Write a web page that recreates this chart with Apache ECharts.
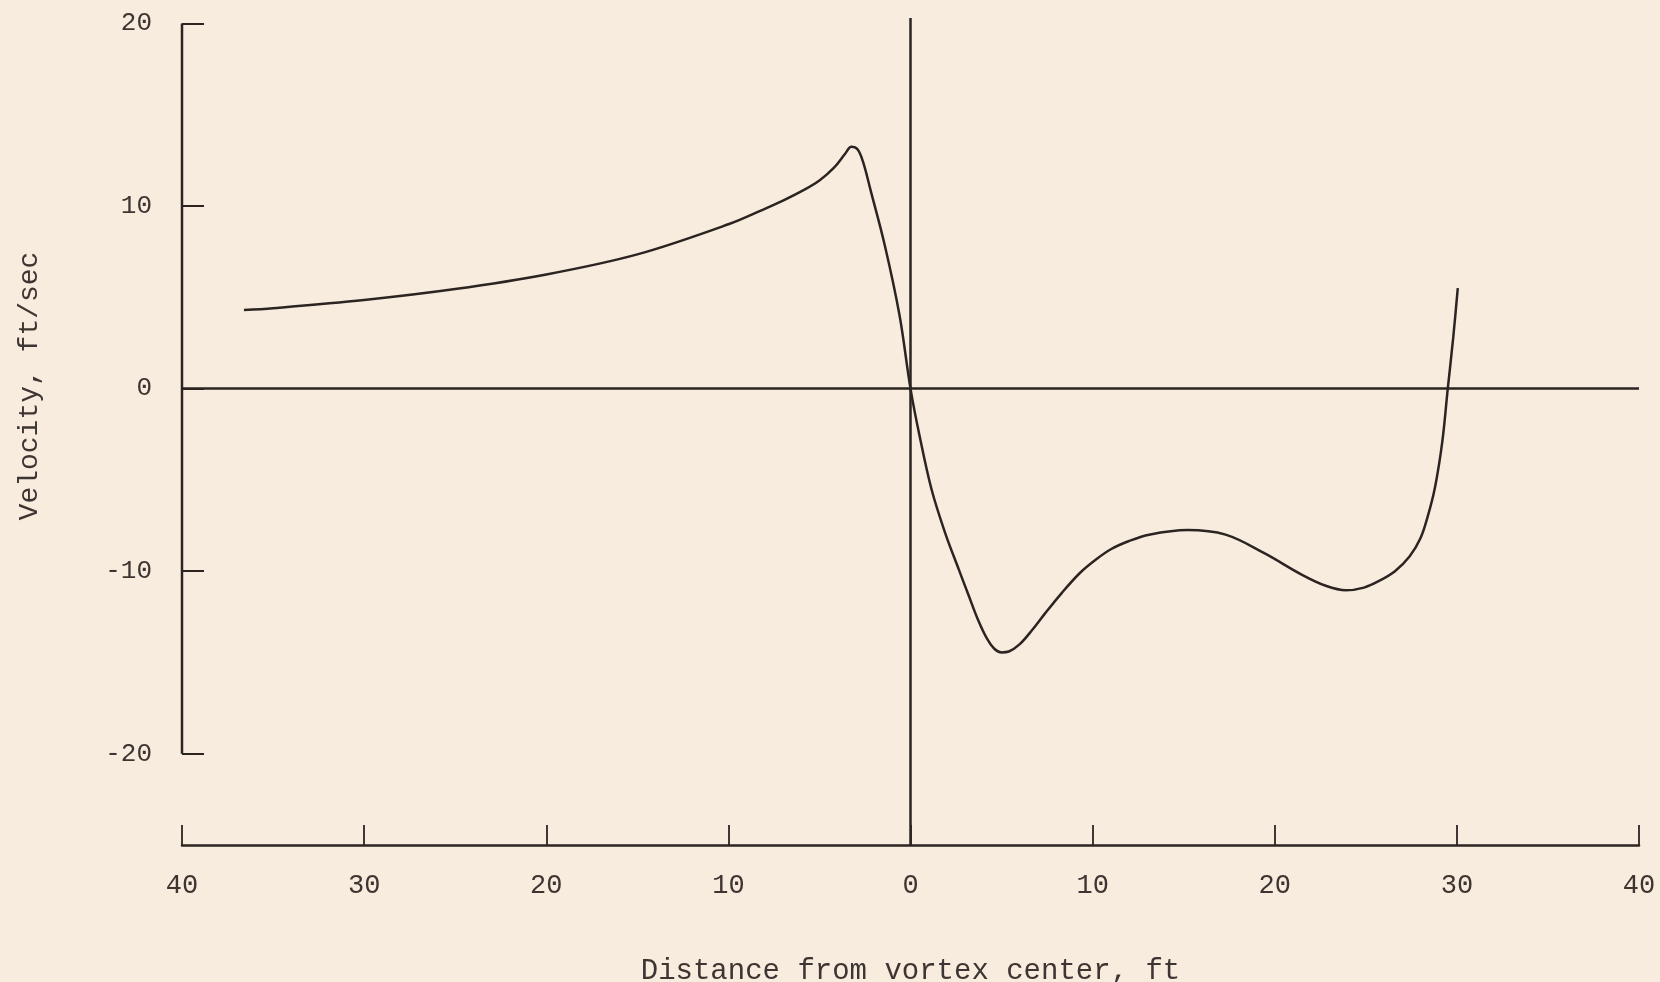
<!DOCTYPE html>
<html>
<head>
<meta charset="utf-8">
<script src="https://cdn.jsdelivr.net/npm/echarts@6.0.0/dist/echarts.min.js"></script>
<style>
  html, body { margin: 0; padding: 0; background: #f8ecdf; }
  #main { width: 1660px; height: 982px; }
</style>
</head>
<body>
<div id="main"></div>
<script>
// distance from vortex center (ft), negative = left of center
var distance = [-36.6, -35, -30, -25, -20, -15, -10, -8, -7, -6, -5, -4.2, -3.6, -3.25, -2.9, -2.6, -2.2, -1.4, -0.6, 0,
  0.5, 1.15, 1.9, 2.65, 3.2, 3.7, 4.2, 4.6, 5.0, 5.4, 6.0, 6.7, 7.4, 8.3, 9.3, 10.2, 11.0, 12.0, 13.1, 15.2, 17.3, 19.4, 21.5, 22.8, 23.9, 24.9,
  25.7, 26.6, 27.4, 28.0, 28.4, 28.8, 29.2, 29.5, 29.8, 30.05];
// velocity (ft/sec)
var velocity = [4.3, 4.4, 4.85, 5.45, 6.25, 7.35, 9.0, 9.85, 10.3, 10.8, 11.4, 12.1, 12.85, 13.25, 13.1, 12.4, 10.9, 7.8, 4.0, 0,
  -2.6, -5.5, -7.9, -9.9, -11.35, -12.65, -13.7, -14.25, -14.45, -14.4, -14.0, -13.2, -12.3, -11.2, -10.1, -9.35, -8.8, -8.35, -8.0, -7.75, -8.0, -9.0, -10.2, -10.8, -11.05, -10.9,
  -10.55, -10.0, -9.2, -8.2, -7.0, -5.4, -2.9, 0, 2.8, 5.5];

var xTicks = [-40, -30, -20, -10, 0, 10, 20, 30, 40];
var yTicks = [-20, -10, 0, 10, 20];
// left frame line only runs between the outer y ticks
var leftFrame = [[-40, 20], [-40, -20]];

var ink = '#2b2421';
var textInk = '#3d3531';
var mono = "'Liberation Mono', 'DejaVu Sans Mono', monospace";

var points = [];
for (var i = 0; i < distance.length; i++) {
  points.push([distance[i], velocity[i]]);
}

var myChart = echarts.init(document.getElementById('main'));
var option = {
  backgroundColor: '#f8ecdf',
  animation: false,
  grid: { left: 182, right: 21, top: 18, bottom: 137, outerBoundsMode: 'none', containLabel: false },
  xAxis: {
    type: 'value',
    min: -40,
    max: 40,
    interval: 10,
    splitLine: { show: false },
    axisLine: { show: true, onZero: false, lineStyle: { color: ink, width: 2.5 } },
    axisTick: { show: true, inside: true, length: 20, lineStyle: { color: ink, width: 1.8 } },
    axisLabel: {
      margin: 27,
      color: textInk,
      fontFamily: mono,
      fontSize: 27,
      formatter: function (v) { return String(Math.abs(v)); }
    },
    name: 'Distance from vortex center, ft',
    nameLocation: 'middle',
    nameGap: 112,
    nameTextStyle: { color: textInk, fontFamily: mono, fontSize: 29 }
  },
  yAxis: {
    type: 'value',
    min: -25,
    max: 20.3,
    splitLine: { show: false },
    axisLine: { show: false, onZero: false },
    axisTick: { show: true, inside: true, length: 22, customValues: yTicks, lineStyle: { color: ink, width: 2 } },
    axisLabel: { margin: 30, color: textInk, fontFamily: mono, fontSize: 26, customValues: yTicks }
  },
  graphic: [{
    type: 'text',
    x: 30,
    y: 386,
    rotation: Math.PI / 2,
    style: {
      text: 'Velocity, ft/sec',
      fill: textInk,
      font: "28px 'Liberation Mono', 'DejaVu Sans Mono', monospace",
      align: 'center',
      verticalAlign: 'middle'
    }
  }],
  series: [
    {
      name: 'frame',
      type: 'line',
      data: leftFrame,
      symbol: 'none',
      silent: true,
      lineStyle: { color: ink, width: 2.5 },
      markLine: {
        silent: true,
        symbol: 'none',
        label: { show: false },
        lineStyle: { color: ink, width: 2.5, type: 'solid' },
        data: [{ yAxis: 0 }, { xAxis: 0 }]
      }
    },
    {
      name: 'velocity',
      type: 'line',
      data: points,
      symbol: 'none',
      smooth: 0.35,
      lineStyle: { color: ink, width: 2.5 }
    }
  ]
};
option && myChart.setOption(option);
</script>
</body>
</html>
